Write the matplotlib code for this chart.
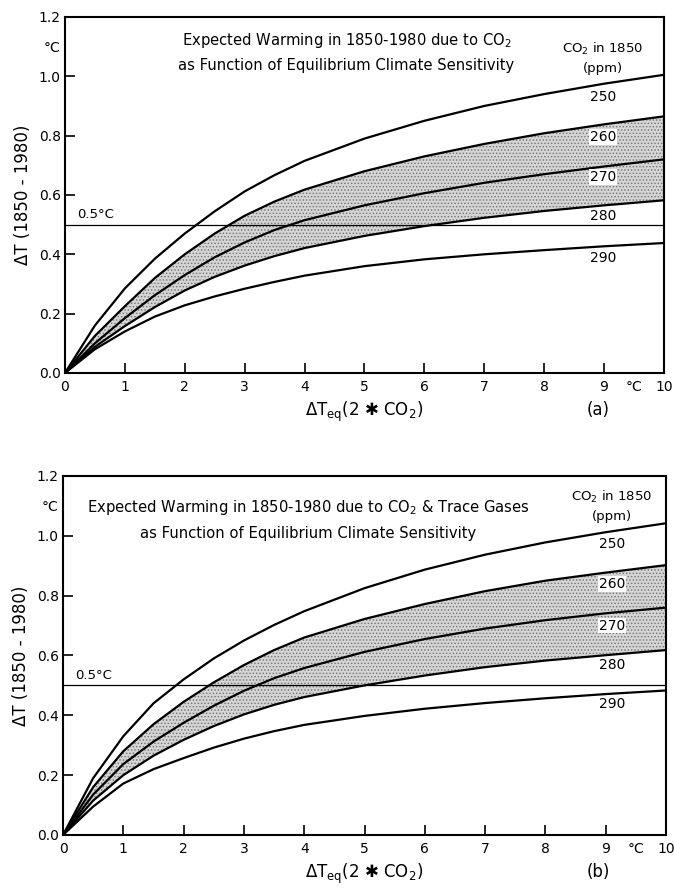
import matplotlib
matplotlib.use("Agg")
import matplotlib.pyplot as plt
import matplotlib.transforms as mtransforms
import numpy as np

plt.rcParams['font.family'] = ['DejaVu Sans']
plt.rcParams['hatch.linewidth'] = 0.7
plt.rcParams['mathtext.default'] = 'regular'

# ---- data ----
sensitivity = [0, 0.5, 1, 1.5, 2, 2.5, 3, 3.5, 4, 5, 6, 7, 8, 9, 10]
co2_levels = ['250', '260', '270', '280', '290']

warming_a = {
    '250': [0, 0.160, 0.285, 0.385, 0.470, 0.545, 0.612, 0.667, 0.715, 0.790, 0.850, 0.900, 0.940, 0.975, 1.005],
    '260': [0, 0.125, 0.225, 0.320, 0.400, 0.470, 0.530, 0.578, 0.618, 0.680, 0.730, 0.772, 0.808, 0.838, 0.865],
    '270': [0, 0.100, 0.185, 0.262, 0.330, 0.390, 0.440, 0.482, 0.515, 0.565, 0.606, 0.641, 0.670, 0.696, 0.720],
    '280': [0, 0.088, 0.158, 0.222, 0.278, 0.324, 0.362, 0.394, 0.421, 0.462, 0.495, 0.523, 0.546, 0.565, 0.582],
    '290': [0, 0.080, 0.140, 0.190, 0.228, 0.258, 0.284, 0.307, 0.328, 0.360, 0.383, 0.400, 0.414, 0.427, 0.438],
}
warming_b = {
    '250': [0, 0.190, 0.330, 0.440, 0.520, 0.590, 0.650, 0.702, 0.748, 0.825, 0.887, 0.937, 0.978, 1.012, 1.042],
    '260': [0, 0.160, 0.280, 0.370, 0.445, 0.510, 0.568, 0.618, 0.660, 0.722, 0.772, 0.815, 0.850, 0.877, 0.902],
    '270': [0, 0.135, 0.237, 0.312, 0.375, 0.432, 0.482, 0.524, 0.558, 0.612, 0.655, 0.690, 0.718, 0.741, 0.760],
    '280': [0, 0.115, 0.200, 0.265, 0.318, 0.364, 0.403, 0.435, 0.461, 0.500, 0.533, 0.561, 0.583, 0.601, 0.618],
    '290': [0, 0.095, 0.172, 0.220, 0.257, 0.292, 0.322, 0.347, 0.368, 0.398, 0.422, 0.441, 0.457, 0.471, 0.483],
}
label_y_a = {'250': 0.93, '260': 0.795, '270': 0.66, '280': 0.53, '290': 0.386}
label_y_b = {'250': 0.972, '260': 0.838, '270': 0.70, '280': 0.568, '290': 0.437}

x_ticks = [0, 1, 2, 3, 4, 5, 6, 7, 8, 9, 10]
y_ticks = [0.0, 0.2, 0.4, 0.6, 0.8, 1.0, 1.2]
threshold = 0.5

titles_a = ['Expected Warming in 1850-1980 due to CO$_2$',
            'as Function of Equilibrium Climate Sensitivity']
titles_b = ['Expected Warming in 1850-1980 due to CO$_2$ & Trace Gases',
            'as Function of Equilibrium Climate Sensitivity']

fig = plt.figure(figsize=(6.74, 8.88), dpi=100)
ax_a = fig.add_axes([0.0964, 0.5800, 0.8887, 0.4009])
ax_b = fig.add_axes([0.0935, 0.0597, 0.8947, 0.4043])


def draw(ax, data, label_y, titles, title_pos, legend_pos, tag, tag_x):
    x = np.array(sensitivity)
    ax.fill_between(x, data['260'], data['280'], facecolor='#d6d6d6',
                    hatch='.....', edgecolor='#7a7a7a', linewidth=0, zorder=1)
    for k in co2_levels:
        ax.plot(x, data[k], color='black', lw=1.6, zorder=3,
                solid_joinstyle='round', solid_capstyle='round')
    ax.axhline(threshold, color='black', lw=0.9, zorder=2)
    ax.text(0.2, threshold + 0.012, '0.5°C', fontsize=9.5, ha='left', va='bottom')
    for k in co2_levels:
        ax.text(legend_pos[0], label_y[k], k, fontsize=10, ha='center', va='center', zorder=4,
                bbox=dict(facecolor='white', edgecolor='none', pad=0.6))
    ax.text(legend_pos[0], legend_pos[1], 'CO$_2$ in 1850', fontsize=9.5, ha='center', va='center')
    ax.text(legend_pos[0], legend_pos[2], '(ppm)', fontsize=9.5, ha='center', va='center')
    for (tx, ty), t in zip(title_pos, titles):
        ax.text(tx, ty, t, fontsize=10.6, ha='center', va='center')

    ax.set_xlim(0, 10)
    ax.set_ylim(0, 1.2)
    ax.set_xticks(x_ticks)
    ax.set_xticklabels([str(v) for v in x_ticks])
    ax.set_yticks(y_ticks)
    ax.set_yticklabels([f'{v:.1f}' for v in y_ticks])
    ax.set_xticks([9.5], minor=True)
    ax.set_xticklabels(['°C'], minor=True)
    ax.set_yticks([1.1], minor=True)
    ax.set_yticklabels(['°C'], minor=True)
    ax.tick_params(which='major', direction='in', length=7, width=1.2, labelsize=10,
                   top=False, right=False)
    ax.tick_params(axis='x', which='major', pad=5)
    ax.tick_params(axis='y', which='major', pad=3)
    ax.tick_params(which='minor', length=0, labelsize=10)
    ax.tick_params(axis='x', which='minor', pad=5)
    ax.tick_params(axis='y', which='minor', pad=3)
    for s in ax.spines.values():
        s.set_linewidth(1.5)
    ax.set_xlabel('ΔT$_{eq}$(2 ✱ CO$_2$)', fontsize=12, labelpad=4)
    ax.set_ylabel('ΔT (1850 - 1980)', fontsize=12, labelpad=5)
    trans = mtransforms.blended_transform_factory(ax.transData, ax.transAxes)
    ax.text(tag_x, -0.104, tag, fontsize=12, ha='center', va='center', transform=trans)


draw(ax_a, warming_a, label_y_a, titles_a, [(4.7, 1.12), (4.7, 1.035)],
     (8.98, 1.093, 1.025), '(a)', 8.9)
draw(ax_b, warming_b, label_y_b, titles_b, [(4.07, 1.094), (4.07, 1.007)],
     (9.1, 1.131, 1.064), '(b)', 8.87)

fig.savefig('out.png', dpi=100)
